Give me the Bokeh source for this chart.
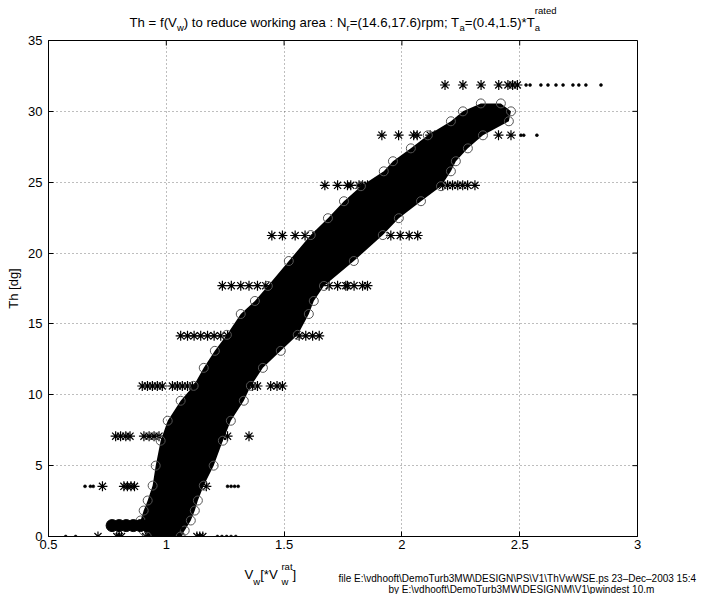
import math
from bokeh.plotting import figure
from bokeh.models import Range1d, FixedTicker, CustomJSTickFormatter
from bokeh.layouts import column
from bokeh.core.properties import value
from bokeh.embed import file_html
from bokeh.resources import INLINE

# ---------------- data ----------------
x_ticks = [0.5, 1.0, 1.5, 2.0, 2.5, 3.0]
y_ticks = [0, 5, 10, 15, 20, 25, 30, 35]

# dense band of 'o' markers: outer left / right boundary of the band per Th level
band_th = [0.0, 0.42, 1.13, 1.83, 2.54, 3.59, 5.0, 6.76, 8.17, 9.58, 10.63, 11.9, 13.1,
           14.23, 15.7, 16.62, 17.68, 19.44, 21.27, 22.46, 23.66, 24.72, 25.77, 26.48,
           27.39, 28.31, 29.3, 30.0, 30.56]
band_x_left = [0.917, 0.904, 0.891, 0.904, 0.921, 0.942, 0.955, 0.976, 1.006, 1.061, 1.116,
               1.159, 1.206, 1.257, 1.316, 1.376, 1.431, 1.520, 1.613, 1.686, 1.754, 1.826,
               1.923, 1.962, 2.038, 2.110, 2.208, 2.259, 2.335]
band_x_right = [1.061, 1.078, 1.104, 1.121, 1.134, 1.159, 1.201, 1.240, 1.274, 1.329, 1.359,
                1.410, 1.486, 1.558, 1.605, 1.626, 1.669, 1.796, 1.919, 1.987, 2.081, 2.166,
                2.208, 2.229, 2.280, 2.344, 2.454, 2.463, 2.420]
# horizontal run of 'o' markers at the lowest Th
bar_x = [0.77, 0.80, 0.83, 0.86, 0.89, 0.92, 0.95, 0.98, 1.01, 1.04]
bar_th = [0.77, 0.77, 0.77, 0.77, 0.77, 0.77, 0.77, 0.77, 0.77, 0.77]

# quantised Th levels with '*' and '.' markers
th_levels = [0.0, 3.54, 7.08, 10.62, 14.16, 17.7, 21.24, 24.78, 28.32, 31.86]
star_x_0 = [0.71, 0.79, 0.80, 0.81, 0.912, 1.03, 1.044, 1.06, 1.13, 1.142, 1.155]
star_x_1 = [0.729, 0.82, 0.835, 0.85, 0.865, 1.17]
star_x_2 = [0.785, 0.806, 0.828, 0.846, 0.905, 0.927, 0.948, 0.969, 1.238, 1.26, 1.351]
star_x_3 = [0.898, 0.92, 0.941, 0.962, 0.983, 1.026, 1.047, 1.068, 1.09, 1.111, 1.366, 1.387,
            1.443, 1.47, 1.493]
star_x_4 = [1.061, 1.09, 1.118, 1.146, 1.175, 1.203, 1.231, 1.26, 1.564, 1.592, 1.621, 1.649]
star_x_5 = [1.238, 1.276, 1.316, 1.351, 1.387, 1.422, 1.691, 1.727, 1.762, 1.769, 1.797,
            1.833, 1.854]
star_x_6 = [1.448, 1.493, 1.547, 1.589, 1.635, 1.953, 1.993, 2.031, 2.067]
star_x_7 = [1.673, 1.727, 1.769, 1.783, 1.818, 1.833, 1.854, 2.173, 2.194, 2.215, 2.237,
            2.258, 2.279, 2.31]
star_x_8 = [1.915, 1.986, 2.05, 2.065, 2.12, 2.14, 2.41, 2.463]
star_x_9 = [2.183, 2.259, 2.336, 2.411, 2.45, 2.47, 2.49]
dot_x_0 = [0.573, 0.615, 1.217, 1.236, 1.256, 1.275, 1.295]
dot_x_1 = [0.655, 0.678, 0.69, 1.26, 1.275, 1.29, 1.305]
dot_x_8 = [2.505, 2.517, 2.573]
dot_x_9 = [2.527, 2.544, 2.59, 2.62, 2.654, 2.684, 2.726, 2.751, 2.781, 2.845]

star_rows = [star_x_0, star_x_1, star_x_2, star_x_3, star_x_4,
             star_x_5, star_x_6, star_x_7, star_x_8, star_x_9]
dot_rows = {0: dot_x_0, 1: dot_x_1, 8: dot_x_8, 9: dot_x_9}

title_parts = [("Th = f(V", 0), ("w", -1), (") to reduce working area : N", 0), ("r", -1),
               ("=(14.6,17.6)rpm; T", 0), ("a", -1), ("=(0.4,1.5)*T", 0), (("a", "rated"), 2)]
xlabel_parts = [("V", 0), ("w", -1), (" [*V", 0), (("w", "rat"), 2), ("]", 0)]
foot_1 = "file E:\\vdhooft\\DemoTurb3MW\\DESIGN\\PS\\V1\\ThVwWSE.ps  23\u2013Dec\u20132003 15:4"
foot_2 = "by E:\\vdhooft\\DemoTurb3MW\\DESIGN\\M\\V1\\pwindest 10.m"

# ---------------- layout ----------------
FONT = "Liberation Sans"
W, H = 712, 594
TOP_H = 33           # title strip height
BOT_Y = 555          # page y where bottom strip starts
FL, FT, FR, FB = 48, 40, 637, 536      # frame box in page pixels
X0, X1, Y0, Y1 = 0.5, 3.0, 0.0, 35.0

p = figure(width=W, height=BOT_Y - TOP_H, x_range=Range1d(X0, X1), y_range=Range1d(Y0, Y1),
           output_backend="svg", toolbar_location=None,
           min_border_left=FL, min_border_top=FT - TOP_H,
           min_border_right=W - FR, min_border_bottom=BOT_Y - FB)
p.background_fill_color = "white"
p.border_fill_color = "white"
p.outline_line_color = "black"
p.outline_line_width = 1


def style_axis(ax, ticks):
    ax.ticker = FixedTicker(ticks=ticks)
    ax.formatter = CustomJSTickFormatter(code="return tick.toString();")
    ax.major_tick_in = 5
    ax.major_tick_out = 0
    ax.minor_tick_line_color = None
    ax.axis_line_color = "black"
    ax.major_tick_line_color = "black"
    ax.major_label_text_font = FONT
    ax.major_label_text_color = "black"
    ax.major_label_text_font_size = "13px"
    ax.major_label_standoff = 3


style_axis(p.xaxis[0], x_ticks)
style_axis(p.yaxis[0], y_ticks)
p.yaxis[0].major_label_standoff = 6
p.yaxis[0].axis_label = "Th [dg]"
p.yaxis[0].axis_label_text_font = FONT
p.yaxis[0].axis_label_text_font_size = "13px"
p.yaxis[0].axis_label_text_font_style = "normal"
p.yaxis[0].axis_label_text_color = "black"
p.yaxis[0].axis_label_standoff = 4

for g in (p.xgrid[0], p.ygrid[0]):
    g.grid_line_color = "#444444"
    g.grid_line_dash = "1 3"
    g.grid_line_width = 1
    g.grid_line_alpha = 0.7

# inward ticks on the top and right edges of the box
p.ray(x=x_ticks, y=[Y1] * len(x_ticks), length=5, length_units="screen",
      angle=-math.pi / 2, line_color="black", line_width=1)
p.ray(x=[X1] * len(y_ticks), y=y_ticks, length=5, length_units="screen",
      angle=math.pi, line_color="black", line_width=1)

# stars and dots
sx, sy, dx, dy = [], [], [], []
for k, row in enumerate(star_rows):
    sx += row
    sy += [th_levels[k]] * len(row)
for k, row in dot_rows.items():
    dx += row
    dy += [th_levels[k]] * len(row)
p.scatter(x=sx, y=sy, marker="asterisk", size=10, line_color="black", line_width=1.2)
p.scatter(x=dx, y=dy, marker="circle", size=3, fill_color="black", line_color="black",
          line_width=0.5)

# band of 'o' markers
p.harea(x1=band_x_left, x2=band_x_right, y=band_th, fill_color="black")
p.scatter(x=band_x_left + band_x_right, y=band_th + band_th, marker="circle", size=9,
          fill_color=None, line_color="#555555", line_width=1)
p.scatter(x=bar_x, y=bar_th, marker="circle", size=12, fill_color="black", line_color="black")


# ---------------- text strips ----------------
AW = {' ': 278, '(': 333, ')': 333, '=': 584, '.': 278, ',': 278, ':': 278, ';': 278,
      '*': 389, '[': 278, ']': 278, '\\': 278, '\u2013': 556, '_': 556,
      'A': 667, 'B': 667, 'C': 722, 'D': 722, 'E': 667, 'F': 611, 'G': 778, 'H': 722,
      'I': 278, 'M': 833, 'N': 722, 'P': 667, 'S': 667, 'T': 611, 'V': 667, 'W': 944,
      'a': 556, 'b': 556, 'c': 500, 'd': 556, 'e': 556, 'f': 278, 'g': 556, 'h': 556,
      'i': 222, 'k': 500, 'l': 222, 'm': 833, 'n': 556, 'o': 556, 'p': 556, 'r': 333,
      's': 500, 't': 278, 'u': 556, 'v': 500, 'w': 722, 'y': 500}


def tw(s, size):
    return sum(AW.get(c, 556) for c in s) / 1000.0 * size


def strip(top, h):
    f = figure(width=W, height=h, x_range=Range1d(0, W), y_range=Range1d(top + h, top),
               output_backend="svg", toolbar_location=None, min_border=0,
               x_axis_type=None, y_axis_type=None)
    f.frame_align = False
    f.outline_line_color = None
    f.background_fill_color = "white"
    f.border_fill_color = "white"
    f.grid.visible = False
    return f


def draw_texts(f, items):
    # items: list of (text, px, py, size)
    sizes = sorted(set(it[3] for it in items))
    for s in sizes:
        sel = [it for it in items if it[3] == s]
        f.text(x=[it[1] for it in sel], y=[it[2] for it in sel], text=[it[0] for it in sel],
               text_font=value(FONT), text_font_size=value(f"{s}px"), text_color="black",
               text_baseline="alphabetic", text_align="left")


def rich(parts, base, F, s, drop, rise, start=None, center=None):
    fs = round(F * s, 2)
    widths = []
    for t, kind in parts:
        if kind == 0:
            widths.append(tw(t, F))
        elif kind == -1:
            widths.append(tw(t, fs))
        else:
            widths.append(max(tw(t[0], fs), tw(t[1], fs)))
    x = start if start is not None else center - sum(widths) / 2
    out = []
    for (t, kind), w in zip(parts, widths):
        if kind == 0:
            out.append((t, x, base, F))
        elif kind == -1:
            out.append((t, x, base + drop, fs))
        else:
            out.append((t[0], x, base + drop, fs))
            out.append((t[1], x, base - rise, fs))
        x += w
    return out


top = strip(0, TOP_H)
draw_texts(top, rich(title_parts, base=21.5, F=13.2, s=0.72, drop=5, rise=11.5,
                     center=(FL + FR) / 2))

bot = strip(BOT_Y, H - BOT_Y)
items = rich(xlabel_parts, base=574, F=13.2, s=0.72, drop=6.5, rise=8, start=244)
items += [(foot_1, 338, 578, 10), (foot_2, 388, 589, 10)]
draw_texts(bot, items)

layout = column(top, p, bot, spacing=0)
open("out.html", "w").write(file_html(layout, INLINE))
